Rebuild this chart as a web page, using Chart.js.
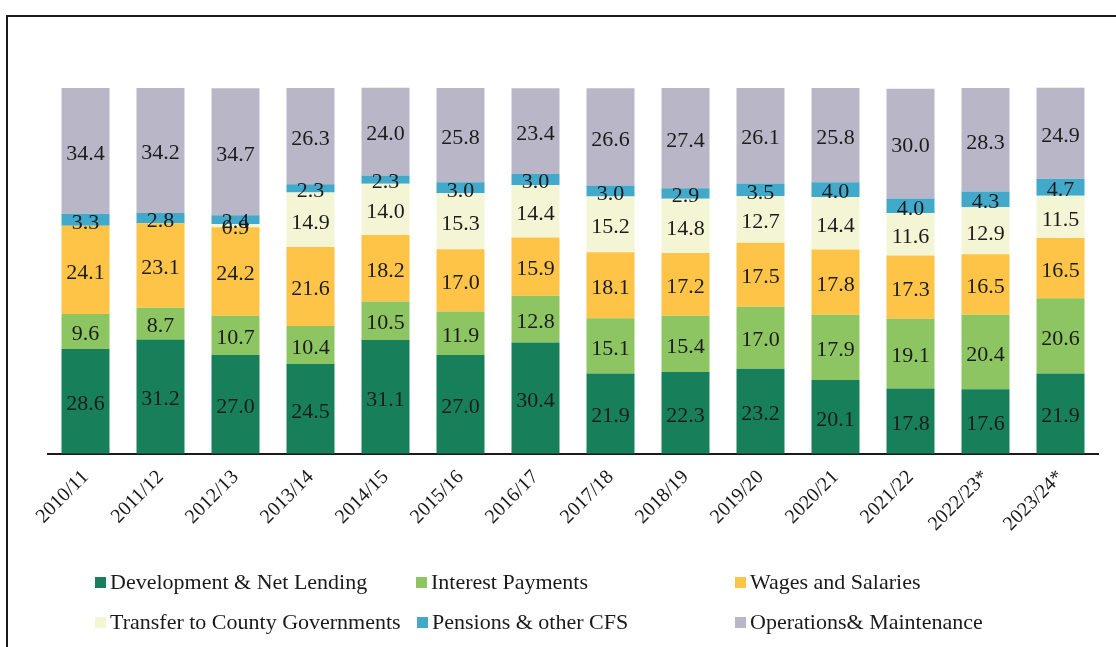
<!DOCTYPE html>
<html>
<head>
<meta charset="utf-8">
<script src="https://cdn.jsdelivr.net/npm/chart.js@4.4.0/dist/chart.umd.min.js"></script>
<style>
  html, body { margin: 0; padding: 0; background: #fff; }
  body { width: 1116px; height: 647px; position: relative; overflow: hidden; font-family: "Liberation Serif", "DejaVu Serif", serif; }
  #frame { position: absolute; left: 6px; top: 15px; right: -4px; bottom: -4px; border-left: 2px solid #1a1a1a; border-top: 2px solid #1a1a1a; }
  #wrap { position: absolute; left: 0; top: 0; width: 1116px; height: 560px; }
  #legend { position: absolute; left: 0; top: 0; width: 1116px; height: 647px; pointer-events: none; }
  .item { position: absolute; font-size: 22px; color: #1a1a1a; white-space: nowrap; line-height: 26px; }
  .item span.box { display: inline-block; width: 11px; height: 11px; margin-right: 4px; vertical-align: 1px; }
</style>
</head>
<body>
<div id="frame"></div>
<div id="wrap"><canvas id="chart"></canvas></div>
<div id="legend"></div>
<script>
// --- DATA ---
const categories = ['2010/11', '2011/12', '2012/13', '2013/14', '2014/15', '2015/16', '2016/17',
                    '2017/18', '2018/19', '2019/20', '2020/21', '2021/22', '2022/23*', '2023/24*'];

const development = [28.6, 31.2, 27.0, 24.5, 31.1, 27.0, 30.4, 21.9, 22.3, 23.2, 20.1, 17.8, 17.6, 21.9];
const interest    = [9.6, 8.7, 10.7, 10.4, 10.5, 11.9, 12.8, 15.1, 15.4, 17.0, 17.9, 19.1, 20.4, 20.6];
const wages       = [24.1, 23.1, 24.2, 21.6, 18.2, 17.0, 15.9, 18.1, 17.2, 17.5, 17.8, 17.3, 16.5, 16.5];
const transfer    = [0, 0, 0.9, 14.9, 14.0, 15.3, 14.4, 15.2, 14.8, 12.7, 14.4, 11.6, 12.9, 11.5];
const pensions    = [3.3, 2.8, 2.4, 2.3, 2.3, 3.0, 3.0, 3.0, 2.9, 3.5, 4.0, 4.0, 4.3, 4.7];
const operations  = [34.4, 34.2, 34.7, 26.3, 24.0, 25.8, 23.4, 26.6, 27.4, 26.1, 25.8, 30.0, 28.3, 24.9];

const seriesNames = ['Development & Net Lending', 'Interest Payments', 'Wages and Salaries',
                     'Transfer to County Governments', 'Pensions & other CFS', 'Operations& Maintenance'];
const seriesColors = ['#17805a', '#8dc563', '#fdc447', '#f3f5d4', '#42a9ca', '#b9b7c7'];
const seriesData = [development, interest, wages, transfer, pensions, operations];

// --- VALUE LABELS (drawn at each bar element's centre) ---
const valueLabels = {
    id: 'valueLabels',
    afterDatasetsDraw(chart) {
        const ctx = chart.ctx;
        ctx.save();
        ctx.font = '22px "Liberation Serif", serif';
        ctx.fillStyle = '#1c1c1c';
        ctx.textAlign = 'center';
        ctx.textBaseline = 'middle';
        chart.data.datasets.forEach((ds, i) => {
            const meta = chart.getDatasetMeta(i);
            meta.data.forEach((bar, j) => {
                const v = ds.data[j];
                if (!v) return;
                const p = bar.getProps(['x', 'y', 'base'], true);
                ctx.fillText(v.toFixed(1), p.x, (p.y + p.base) / 2 + 3);
            });
        });
        ctx.restore();
    }
};

const chart = new Chart(document.getElementById('chart'), {
    type: 'bar',
    data: {
        labels: categories,
        datasets: seriesData.map((d, i) => ({
            label: seriesNames[i],
            data: d,
            backgroundColor: seriesColors[i],
            borderWidth: 0,
            categoryPercentage: 1,
            barPercentage: 0.64,
            clip: false
        }))
    },
    options: {
        responsive: true,
        maintainAspectRatio: false,
        animation: false,
        layout: { padding: { left: 48, right: 18, top: 88, bottom: 20 } },
        plugins: { legend: { display: false }, tooltip: { enabled: false } },
        scales: {
            x: {
                stacked: true,
                grid: { display: false },
                border: { display: true, color: '#1a1a1a', width: 2 },
                ticks: {
                    color: '#1a1a1a',
                    font: { family: '"Liberation Serif", serif', size: 20 },
                    minRotation: 45,
                    maxRotation: 45,
                    padding: 4
                }
            },
            y: {
                stacked: true,
                display: false,
                min: 0,
                max: 100
            }
        }
    },
    plugins: [valueLabels]
});

// --- HTML LEGEND (3 columns x 2 rows) ---
const legendPos = [[95, 569], [416, 569], [735, 569], [95, 609], [417, 609], [735, 609]];
const legend = document.getElementById('legend');
seriesNames.forEach((name, i) => {
    const el = document.createElement('div');
    el.className = 'item';
    el.style.left = legendPos[i][0] + 'px';
    el.style.top = legendPos[i][1] + 'px';
    el.innerHTML = '<span class="box" style="background:' + seriesColors[i] + '"></span>' + name;
    legend.appendChild(el);
});
</script>
</body>
</html>
